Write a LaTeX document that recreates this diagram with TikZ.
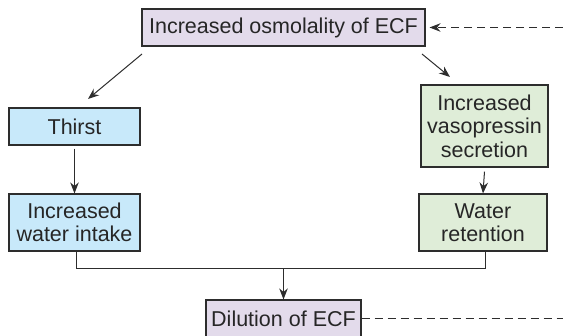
\documentclass[tikz,border=0pt]{standalone}
\usepackage{fontspec}
\setmainfont{Liberation Sans}
\usetikzlibrary{arrows.meta}
\definecolor{boxpurple}{RGB}{227,219,235}
\definecolor{boxblue}{RGB}{200,233,250}
\definecolor{boxgreen}{RGB}{223,237,216}
\definecolor{edge}{RGB}{45,45,45}
\tikzset{
  box/.style={draw=edge, line width=1.1pt, inner sep=0pt, align=center,
    font=\fontsize{21.5}{23.5}\selectfont, text=black!85},
  conn/.style={draw=edge, line width=1pt},
  arr/.style={conn, -{Stealth[length=11pt,width=8.5pt]}},
  dashline/.style={conn, dash pattern=on 8pt off 5pt}
}
\begin{document}
\begin{tikzpicture}[x=1pt,y=-1pt]
\useasboundingbox (0,0) rectangle (563,336);
\node[box, fill=boxpurple, minimum width=283pt, minimum height=37pt] (osm) at (283.5,27.5) {Increased osmolality of ECF};
\node[box, fill=boxblue, minimum width=131pt, minimum height=37pt] (thirst) at (74.5,126.5) {Thirst};
\node[box, fill=boxblue, minimum width=131pt, minimum height=57pt] (intake) at (74.5,222.5) {Increased\\water intake};
\node[box, fill=boxgreen, minimum width=127pt, minimum height=82pt] (vaso) at (484.5,126) {Increased\\vasopressin\\secretion};
\node[box, fill=boxgreen, minimum width=128pt, minimum height=57pt] (ret) at (483,222.5) {Water\\retention};
\node[box, fill=boxpurple, minimum width=155pt, minimum height=38pt] (dil) at (283.5,319) {Dilution of ECF};
\coordinate (join) at (283.5,269);
\coordinate (fbtop) at (563,27.5);
\coordinate (fbbot) at (563,319);
\draw[arr] (142,54) -- (88,99);
\draw[arr] (422,54) -- (450,77);
\draw[arr] (thirst.south) ++(0,3) -- (intake.north);
\draw[arr] (vaso.south) ++(0,4) -- (ret.north);
\draw[conn] (intake.south -| 76,0) -- (76,269) -- (485,269) -- (ret.south -| 485,0);
\draw[arr] (join) -- (dil.north);
\draw[dashline] (dil.east) -- (fbbot);
\draw[dashline, -{Stealth[length=11pt,width=8.5pt]}] (fbtop) -- ([xshift=4pt]osm.east);
\end{tikzpicture}
\end{document}
